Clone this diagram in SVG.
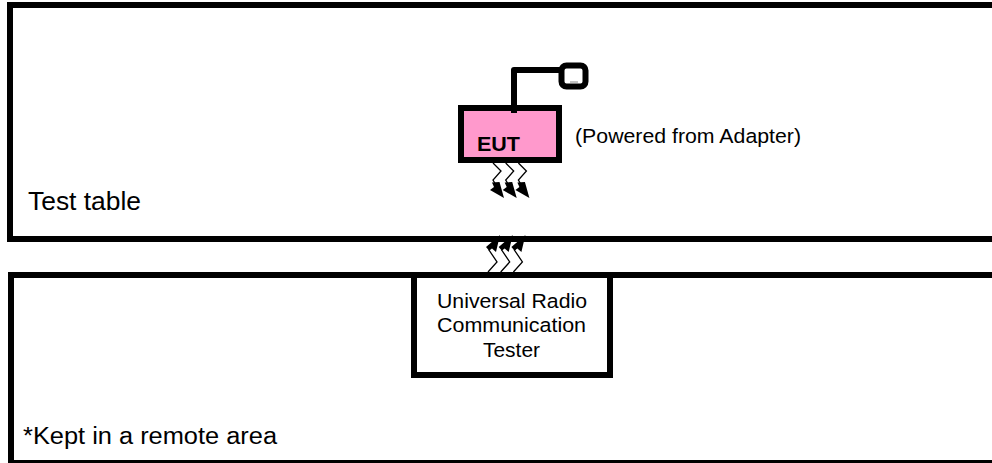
<svg xmlns="http://www.w3.org/2000/svg" width="992" height="463" viewBox="0 0 992 463">
<defs>
<style>
.box{fill:#fff;stroke:#000;stroke-width:6}
.t{font-family:"Liberation Sans",Arial,sans-serif;fill:#000;font-size:20.500px}
.z{fill:none;stroke:#000;stroke-width:1.300}
.h{fill:#000;stroke:none}
</style>
<g id="boltDown">
<path class="z" d="M493 163L501 171L493 180L496 185"/>
<path class="h" d="M504 198L490 190L494 187L492 182.500L499.500 182Z"/>
</g>
<g id="boltUp">
<path class="z" d="M488 272L497 262L489 250L492 246"/>
<path class="h" d="M500 235L496 252L492 248.500L489 250.500L486 247Z"/>
</g>
</defs>
<g id="test-table">
<rect class="box" x="10" y="5" width="990" height="234"/>
<text class="t" x="28" y="210" style="font-size:25px" textLength="113" lengthAdjust="spacingAndGlyphs">Test table</text>
</g>
<g id="remote-area">
<rect class="box" x="11" y="275" width="990" height="188"/>
<text class="t" x="23" y="444" style="font-size:23.500px" textLength="254" lengthAdjust="spacingAndGlyphs">*Kept in a remote area</text>
</g>
<g id="connectors">
<use href="#boltDown"/><use href="#boltDown" x="12.700"/><use href="#boltDown" x="25.400"/>
<use href="#boltUp"/><use href="#boltUp" x="12.700"/><use href="#boltUp" x="25.400"/>
<path d="M514 113V70H560" fill="none" stroke="#000" stroke-width="6" stroke-linejoin="round"/>
</g>
<g id="eut">
<rect x="461" y="108" width="98" height="52" fill="#ff99cc" stroke="#000" stroke-width="6"/>
<path d="M514 105V113" stroke="#000" stroke-width="6"/>
<text class="t" x="477" y="151" style="font-size:21px" font-weight="bold" textLength="43" lengthAdjust="spacingAndGlyphs">EUT</text>
</g>
<g id="adapter">
<rect x="561.500" y="65.500" width="24" height="21" rx="5" fill="#fff" stroke="#000" stroke-width="6"/>
<path d="M570 82H578" stroke="#888" stroke-width="1" fill="none"/>
</g>
<text class="t" x="575" y="143" textLength="226" lengthAdjust="spacingAndGlyphs">(Powered from Adapter)</text>
<g id="tester">
<rect class="box" x="414" y="275" width="196" height="100"/>
<text class="t" x="437" y="308" textLength="150" lengthAdjust="spacingAndGlyphs">Universal Radio</text>
<text class="t" x="437" y="332" textLength="149" lengthAdjust="spacingAndGlyphs">Communication</text>
<text class="t" x="483" y="357" textLength="57" lengthAdjust="spacingAndGlyphs">Tester</text>
</g>
</svg>
